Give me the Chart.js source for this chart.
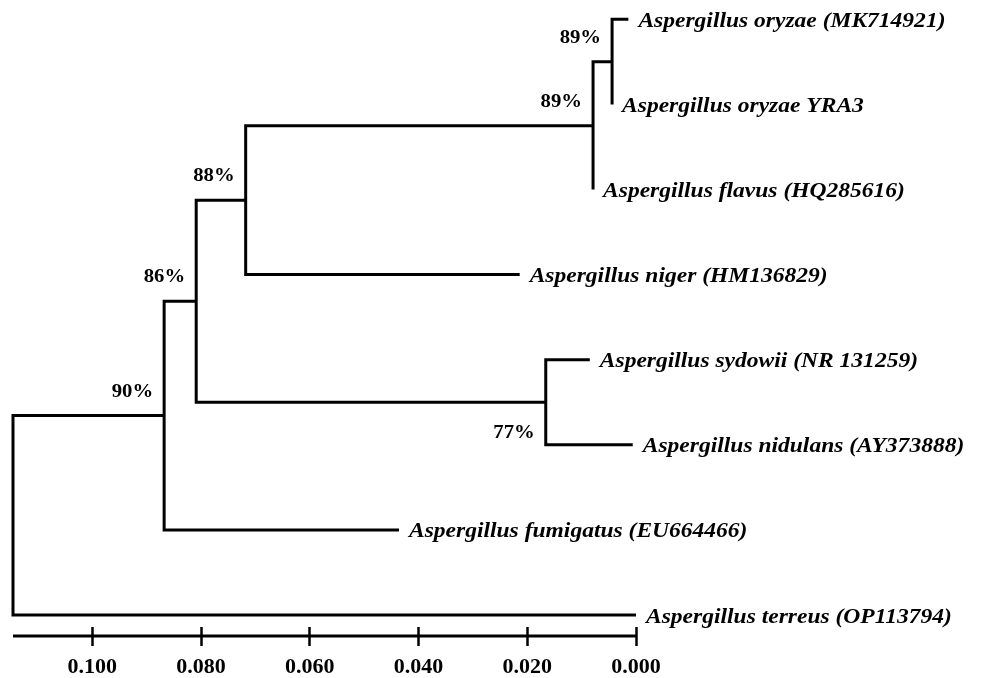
<!DOCTYPE html>
<html>
<head>
<meta charset="utf-8">
<script src="https://cdn.jsdelivr.net/npm/chart.js@4.4.1/dist/chart.umd.min.js"></script>
<style>
  html, body { margin: 0; padding: 0; background: #fff; }
</style>
</head>
<body>
<canvas id="tree" width="982" height="678"></canvas>
<script>
// leaves, top to bottom
const leafNames = [
  "Aspergillus oryzae (MK714921)",
  "Aspergillus oryzae YRA3",
  "Aspergillus flavus (HQ285616)",
  "Aspergillus niger (HM136829)",
  "Aspergillus sydowii (NR 131259)",
  "Aspergillus nidulans (AY373888)",
  "Aspergillus fumigatus (EU664466)",
  "Aspergillus terreus (OP113794)",
];
// distance of each tip from the 0.000 end of the scale
const leafDist = [0.0014, 0.0044, 0.0079, 0.0214, 0.0085, 0.0006, 0.0436, 0.0];

// internal nodes ("L" = leaf, "N" = node), children before parents
const nodeDist = [0.0044, 0.0079, 0.0718, 0.0166, 0.0809, 0.0868, 0.1146];
const nodeChildren = [
  ["L0", "L1"],
  ["N0", "L2"],
  ["N1", "L3"],
  ["L4", "L5"],
  ["N2", "N3"],
  ["N4", "L6"],
  ["N5", "L7"],
];
const nodeSupport = ["89%", "89%", "88%", "77%", "86%", "90%", ""];

const xTicks = [0.1, 0.08, 0.06, 0.04, 0.02, 0.0];

const SERIF = "'Liberation Serif', 'Times New Roman', serif";
const TEXT_STRETCH = 1.12; // the source text is a bit wide

// y of a node = middle of its two children
const nodeY = [];
function posOf(ref) {
  const i = Number(ref.slice(1));
  if (ref[0] === "L") return { x: leafDist[i], y: i };
  return { x: nodeDist[i], y: nodeY[i] };
}
nodeChildren.forEach((kids, i) => {
  nodeY[i] = (posOf(kids[0]).y + posOf(kids[1]).y) / 2;
});

// one bracket per node: child A -> node -> child B
const datasets = nodeChildren.map((kids, i) => {
  const a = posOf(kids[0]);
  const b = posOf(kids[1]);
  return {
    data: [
      { x: a.x, y: a.y },
      { x: nodeDist[i], y: a.y },
      { x: nodeDist[i], y: b.y },
      { x: b.x, y: b.y },
    ],
    borderColor: "#000",
    borderWidth: 3,
    borderJoinStyle: "miter",
    borderCapStyle: "butt",
    pointRadius: 0,
    tension: 0,
    clip: false,
  };
});

function stretchText(ctx, text, px, py, align) {
  ctx.save();
  ctx.translate(px, py);
  ctx.scale(TEXT_STRETCH, 1);
  ctx.textAlign = align;
  ctx.fillText(text, 0, 0);
  ctx.restore();
}

const treeText = {
  id: "treeText",
  afterDatasetsDraw(chart) {
    const { ctx } = chart;
    const x = chart.scales.x;
    const y = chart.scales.y;
    ctx.save();
    ctx.fillStyle = "#000";
    ctx.strokeStyle = "#000";

    // scale bar line through the tick marks
    const barY = x.top + 9;
    ctx.lineWidth = 3;
    ctx.beginPath();
    ctx.moveTo(x.left, barY);
    ctx.lineTo(x.right, barY);
    ctx.stroke();

    ctx.textBaseline = "alphabetic";

    // tip names
    ctx.font = "italic bold 21px " + SERIF;
    leafNames.forEach((name, i) => {
      stretchText(ctx, name,
        x.getPixelForValue(leafDist[i]) + 10,
        y.getPixelForValue(i) + 7.5, "left");
    });

    // bootstrap values
    ctx.font = "bold 18.5px " + SERIF;
    nodeSupport.forEach((s, i) => {
      if (!s) return;
      const below = i === 3;
      stretchText(ctx, s,
        x.getPixelForValue(nodeDist[i]) - 11,
        y.getPixelForValue(nodeY[i]) + (below ? 36 : -19), "right");
    });
    ctx.restore();
  },
};

new Chart(document.getElementById("tree"), {
  type: "line",
  data: { datasets },
  options: {
    responsive: false,
    animation: false,
    layout: { padding: { left: 13, right: 346, top: 0, bottom: 0 } },
    plugins: {
      legend: { display: false },
      tooltip: { enabled: false },
    },
    scales: {
      x: {
        type: "linear",
        reverse: true,
        min: 0,
        max: nodeDist[nodeDist.length - 1],
        afterBuildTicks: (scale) => {
          scale.ticks = xTicks.map((v) => ({ value: v }));
        },
        afterFit: (scale) => {
          scale.height = 51;
        },
        border: { display: false },
        grid: {
          drawOnChartArea: false,
          drawTicks: true,
          tickLength: 19,
          tickWidth: 2.5,
          tickColor: "#000",
        },
        ticks: {
          padding: 8,
          color: "#000",
          maxRotation: 0,
          font: { family: SERIF, size: 22, weight: "bold" },
          callback: (v) => Number(v).toFixed(3),
        },
      },
      y: {
        type: "linear",
        display: false,
        reverse: true,
        min: -0.227,
        max: 7.141,
      },
    },
  },
  plugins: [treeText],
});
</script>
</body>
</html>
